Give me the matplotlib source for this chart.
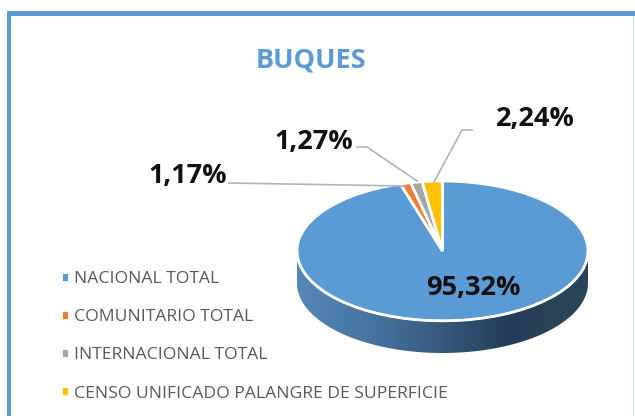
#!/usr/bin/env python3
"""BUQUES pie chart with a fake 3D rim."""
import numpy as np
import matplotlib; matplotlib.use("Agg")
import matplotlib.pyplot as plt
from matplotlib.colors import LinearSegmentedColormap
from matplotlib.lines import Line2D
from matplotlib.patches import Polygon, Rectangle

W, H = 635, 416
title = "BUQUES"
labels = ["NACIONAL TOTAL", "COMUNITARIO TOTAL", "INTERNACIONAL TOTAL",
          "CENSO UNIFICADO PALANGRE DE SUPERFICIE"]
values = [95.32, 1.17, 1.27, 2.24]
colors = ["#5B9BD5", "#ED7D31", "#A5A5A5", "#FFC000"]
pct = [f"{v:.2f}".replace(".", ",") + "%" for v in values]
label_px = [(473, 288), (188, 176), (314, 142), (535, 119)]
leaders_px = [[(229, 183), (405, 186)],
              [(357, 147), (367, 147), (417, 181)],
              [(472, 130), (462, 130), (434, 182)]]

plt.rcParams["font.family"] = ["Open Sans", "DejaVu Sans"]
fig = plt.figure(figsize=(W / 100, H / 100), dpi=100)

def fx(x): return x / W
def fy(y): return 1 - y / H

# frame
fig.add_artist(Rectangle((fx(7), 0), fx(3.5), fy(11), color="#5B9BD5", lw=0))
fig.add_artist(Rectangle((fx(7), fy(16)), fx(W - 7), fy(11) - fy(16), color="#5B9BD5", lw=0))
fig.add_artist(Rectangle((fx(632.5), 0), fx(1), fy(16), color="#C9DDF0", lw=0))

# pie axes: x -1..1 over 297-588 px, y radius 69.5 px plus 32 px of rim below
depth = 32 / 69.5
ax = fig.add_axes([fx(297), fy(353), fx(291), fy(181) - fy(353)])
wedges, _ = ax.pie(values, colors=colors, startangle=90, counterclock=False, radius=1,
                   wedgeprops=dict(edgecolor="white", linewidth=2))
for w in wedges:
    w.set_zorder(3)

# rim with left-to-right shading
th = np.linspace(np.pi, 2 * np.pi, 200)
rim = np.r_[np.c_[np.cos(th), np.sin(th) - depth], np.c_[np.cos(th[::-1]), np.sin(th[::-1])]]
shade = LinearSegmentedColormap.from_list(
    "rim", [(0, "#5487B8"), (0.3, "#44709B"), (0.72, "#263F58"), (1, "#2A4559")])
im = ax.imshow(np.linspace(0, 1, 256)[None, :], cmap=shade, extent=(-1, 1, -1 - depth, 1),
               aspect="auto", zorder=1)
im.set_clip_path(Polygon(rim, transform=ax.transData))
ax.plot(np.cos(th), np.sin(th), color="white", lw=1.5, zorder=4)
ax.set_aspect("auto")
ax.set_xlim(-1, 1); ax.set_ylim(-1 - depth, 1)
ax.axis("off")

# leader lines
for pts in leaders_px:
    xs, ys = zip(*pts)
    fig.add_artist(Line2D([fx(x) for x in xs], [fy(y) for y in ys], color="#B4B4B4", lw=1.2))

# texts
fig.text(fx(311), fy(61), title, color="#5B9BD5", fontsize=19.5, fontweight="bold",
         ha="center", va="center")
for s, (x, y) in zip(pct, label_px):
    fig.text(fx(x), fy(y), s, color="#111111", fontsize=19.5, fontweight="bold",
             ha="center", va="center")

fig.legend(wedges, labels, loc="upper left", bbox_to_anchor=(fx(60.5), fy(271)), frameon=False,
           fontsize=12.6, labelcolor="#595959", handlelength=0.5, handleheight=0.5,
           handletextpad=0.25, labelspacing=1.27, borderpad=0, borderaxespad=0)

fig.savefig("out.png", dpi=100)
